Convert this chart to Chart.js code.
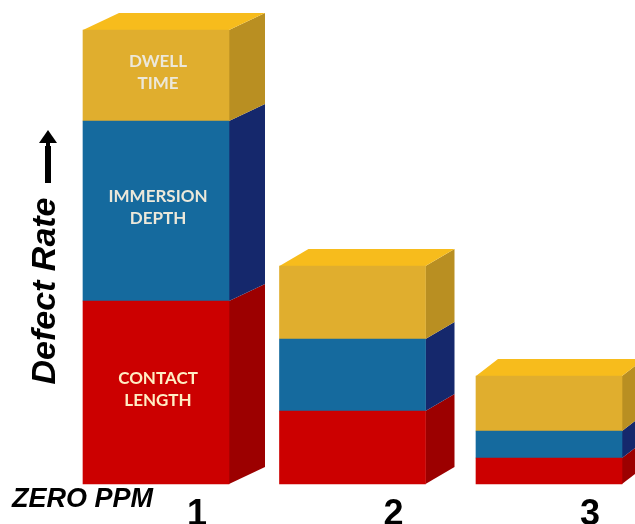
<!DOCTYPE html>
<html>
<head>
<meta charset="utf-8">
<style>
  html, body { margin: 0; padding: 0; background: #fff; }
  canvas { display: block; }
</style>
<script src="https://cdn.jsdelivr.net/npm/chart.js@4"></script>
</head>
<body>
<canvas id="chart" width="635" height="524"></canvas>
<script>
// values, the axis has no numbers so units are arbitrary
const categories = ['1', '2', '3'];
const contactLength = [183, 73, 26];
const immersionDepth = [180, 72, 27];
const dwellTime = [91, 73, 55];

const contactLabel = ['CONTACT', 'LENGTH'];
const immersionLabel = ['IMMERSION', 'DEPTH'];
const dwellLabel = ['DWELL', 'TIME'];

const sideColors = ['#9c0000', '#15286c', '#b98f22'];
const topColor = '#f7bc1c';
// the box depth shrinks going right, the photo has some perspective
const depthX = [36, 29, 22];
const depthY = 17;

// draws the side and top faces behind each bar, the library only does the front
const boxFaces = {
    id: 'boxFaces',
    beforeDatasetsDraw(chart) {
        const ctx = chart.ctx;
        chart.data.datasets.forEach((ds, d) => {
            chart.getDatasetMeta(d).data.forEach((bar, i) => {
                const right = bar.x + bar.width / 2;
                const dx = depthX[i];
                ctx.fillStyle = sideColors[d];
                ctx.beginPath();
                ctx.moveTo(right, bar.y);
                ctx.lineTo(right + dx, bar.y - depthY);
                ctx.lineTo(right + dx, bar.base - depthY);
                ctx.lineTo(right, bar.base);
                ctx.closePath();
                ctx.fill();

                if (d === chart.data.datasets.length - 1) {
                    const left = bar.x - bar.width / 2;
                    ctx.fillStyle = topColor;
                    ctx.beginPath();
                    ctx.moveTo(left, bar.y);
                    ctx.lineTo(left + dx, bar.y - depthY);
                    ctx.lineTo(right + dx, bar.y - depthY);
                    ctx.lineTo(right, bar.y);
                    ctx.closePath();
                    ctx.fill();
                }
            });
        });
    },
    afterDraw(chart) {
        const ctx = chart.ctx;
        ctx.save();

        // segment names, only on the first bar
        ctx.textAlign = 'center';
        ctx.textBaseline = 'middle';
        ctx.font = 'bold 17px Lato';
        chart.data.datasets.forEach((ds, d) => {
            const bar = chart.getDatasetMeta(d).data[0];
            const mid = (bar.y + bar.base) / 2 - 3;
            ctx.fillStyle = d === 0 ? '#ffeec4' : '#ece8da';
            ds.segmentLabel.forEach((line, n) => {
                ctx.fillText(line, bar.x + 2, mid + (n - 0.5) * 22);
            });
        });

        ctx.fillStyle = '#000';
        ctx.textAlign = 'left';
        ctx.textBaseline = 'alphabetic';
        ctx.font = 'italic bold 27px "Liberation Sans"';
        ctx.fillText('ZERO PPM', 12, 507);

        // axis title
        ctx.save();
        ctx.translate(55, 291);
        ctx.rotate(-Math.PI / 2);
        ctx.textAlign = 'center';
        ctx.font = 'italic bold 34px "Liberation Sans"';
        ctx.fillText('Defect Rate', 0, 0);
        ctx.restore();

        // arrow next to the title
        ctx.fillRect(45, 146, 6, 37);
        ctx.beginPath();
        ctx.moveTo(48, 130);
        ctx.lineTo(57, 143);
        ctx.lineTo(39, 143);
        ctx.closePath();
        ctx.fill();
        ctx.fillRect(46, 143, 4, 4);

        ctx.restore();
    }
};

new Chart(document.getElementById('chart'), {
    type: 'bar',
    data: {
        labels: categories,
        datasets: [
            { label: 'Contact length', segmentLabel: contactLabel, data: contactLength, backgroundColor: '#cc0000', clip: false },
            { label: 'Immersion depth', segmentLabel: immersionLabel, data: immersionDepth, backgroundColor: '#156a9e', clip: false },
            { label: 'Dwell time', segmentLabel: dwellLabel, data: dwellTime, backgroundColor: '#e0ae2e', clip: false }
        ]
    },
    options: {
        responsive: false,
        animation: false,
        barThickness: 146,
        // offset is off below, so these paddings put the first and last bar centres
        layout: { padding: { left: 156, right: 86, top: 0, bottom: 0 } },
        plugins: {
            legend: { display: false },
            tooltip: { enabled: false }
        },
        scales: {
            x: {
                stacked: true,
                offset: false,
                grid: { display: false },
                border: { display: false },
                afterFit(scale) { scale.height = 40; },
                ticks: {
                    color: '#000',
                    font: { family: '"Liberation Sans"', size: 36, weight: 'bold' },
                    padding: 1,
                    labelOffset: 41,
                    maxRotation: 0,
                    autoSkip: false
                }
            },
            y: {
                stacked: true,
                display: false,
                min: 0,
                max: 484
            }
        }
    },
    plugins: [boxFaces]
});
</script>
</body>
</html>
